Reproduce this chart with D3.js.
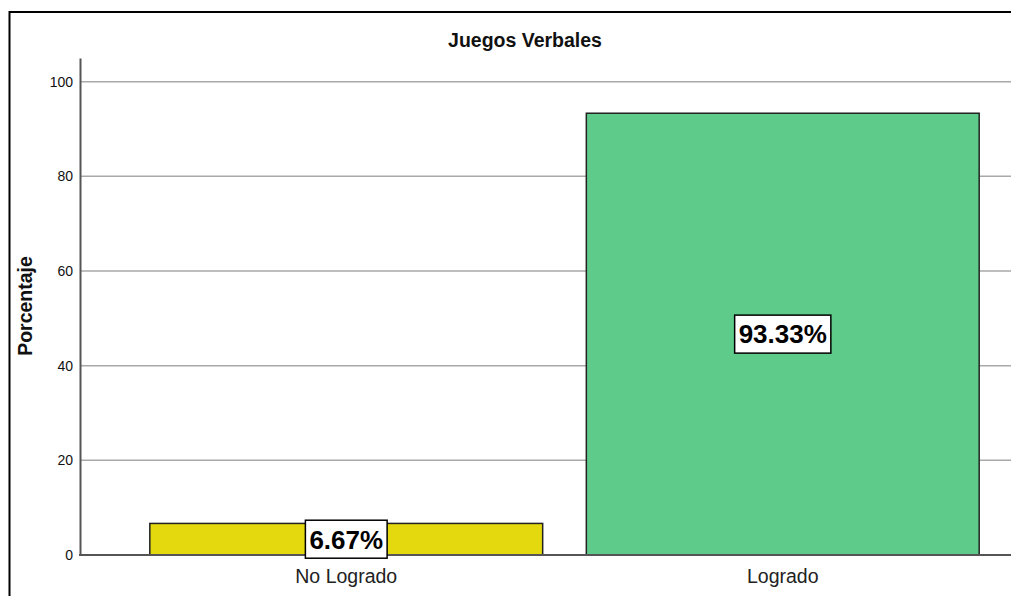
<!DOCTYPE html>
<html>
<head>
<meta charset="utf-8">
<script src="https://cdn.jsdelivr.net/npm/d3@7"></script>
<style>
  body { margin: 0; background: #fff; }
  text { font-family: "Liberation Sans", Arial, sans-serif; }
</style>
</head>
<body>
<svg width="1011" height="596"></svg>
<script>
const WIDTH = 1011;
const HEIGHT = 596;

const categories = ['No Logrado', 'Logrado'];
const percentages = [6.67, 93.33];
const barColors = ['#e4d80f', '#5fcb8b'];
const yTicks = [0, 20, 40, 60, 80, 100];

const TITLE = 'Juegos Verbales';
const Y_TITLE = 'Porcentaje';

var svg = d3.select('svg')
    .attr('width', WIDTH)
    .attr('height', HEIGHT);

svg.append('rect')
    .attr('width', WIDTH)
    .attr('height', HEIGHT)
    .attr('fill', '#fff');

// outer frame (runs off the picture at right and bottom)
svg.append('rect')
    .attr('x', 9.5)
    .attr('y', 12)
    .attr('width', 1100)
    .attr('height', 700)
    .attr('fill', 'none')
    .attr('stroke', '#000')
    .attr('stroke-width', 2);

/* scales */
var x = d3.scaleBand()
    .domain(categories)
    .range([128, 1001])
    .paddingInner(0.1)
    .paddingOuter(0.05);

var y = d3.scaleLinear()
    .domain([0, 105])
    .range([555, 58]);

/* grid */
svg.append('g')
    .selectAll('line')
    .data(yTicks.filter(d => d > 0))
    .join('line')
    .attr('x1', 81)
    .attr('x2', WIDTH)
    .attr('y1', d => y(d))
    .attr('y2', d => y(d))
    .attr('stroke', '#a9a9a9')
    .attr('stroke-width', 1.5);

/* bars */
svg.append('g')
    .selectAll('rect')
    .data(percentages)
    .join('rect')
    .attr('x', (d, i) => x(categories[i]))
    .attr('y', d => y(d))
    .attr('width', x.bandwidth())
    .attr('height', d => y(0) - y(d))
    .attr('fill', (d, i) => barColors[i])
    .attr('stroke', '#222')
    .attr('stroke-width', 1.5);

/* Y axis */
var yAxis = svg.append('g')
    .attr('transform', 'translate(80,0)')
    .call(d3.axisLeft(y).tickValues(yTicks).tickSize(0).tickPadding(7));
yAxis.select('.domain').attr('stroke', '#555').attr('stroke-width', 2);
yAxis.selectAll('text')
    .attr('font-size', 14)
    .attr('fill', '#111')
    .style('font-family', '"Liberation Sans", Arial, sans-serif');

/* X axis */
var xAxis = svg.append('g')
    .attr('transform', 'translate(0,555)');
xAxis.append('line')
    .attr('x1', 79)
    .attr('x2', WIDTH)
    .attr('stroke', '#555')
    .attr('stroke-width', 2);
xAxis.selectAll('text')
    .data(categories)
    .join('text')
    .attr('x', d => x(d) + x.bandwidth() / 2)
    .attr('y', 28)
    .attr('text-anchor', 'middle')
    .attr('font-size', 19.5)
    .attr('fill', '#222')
    .text(d => d);

/* value labels */
var labels = svg.append('g')
    .selectAll('g')
    .data(percentages)
    .join('g')
    .attr('transform', (d, i) =>
        'translate(' + (x(categories[i]) + x.bandwidth() / 2) + ',' + ((y(d) + y(0)) / 2) + ')');

labels.append('rect');
labels.append('text')
    .attr('text-anchor', 'middle')
    .attr('dy', '0.36em')
    .attr('font-size', 26)
    .attr('font-weight', 'bold')
    .attr('fill', '#000')
    .text(d => d.toFixed(2) + '%');

labels.each(function() {
    var g = d3.select(this);
    var w = g.select('text').node().getComputedTextLength();
    g.select('rect')
        .attr('x', -w / 2 - 4)
        .attr('y', -19)
        .attr('width', w + 8)
        .attr('height', 38)
        .attr('fill', '#fff')
        .attr('stroke', '#000')
        .attr('stroke-width', 1.5);
});

/* titles */
svg.append('text')
    .attr('x', 525)
    .attr('y', 47)
    .attr('text-anchor', 'middle')
    .attr('font-size', 19.5)
    .attr('font-weight', 'bold')
    .attr('fill', '#111')
    .text(TITLE);

svg.append('text')
    .attr('transform', 'translate(32,306) rotate(-90)')
    .attr('text-anchor', 'middle')
    .attr('font-size', 19.5)
    .attr('font-weight', 'bold')
    .attr('fill', '#111')
    .text(Y_TITLE);
</script>
</body>
</html>
